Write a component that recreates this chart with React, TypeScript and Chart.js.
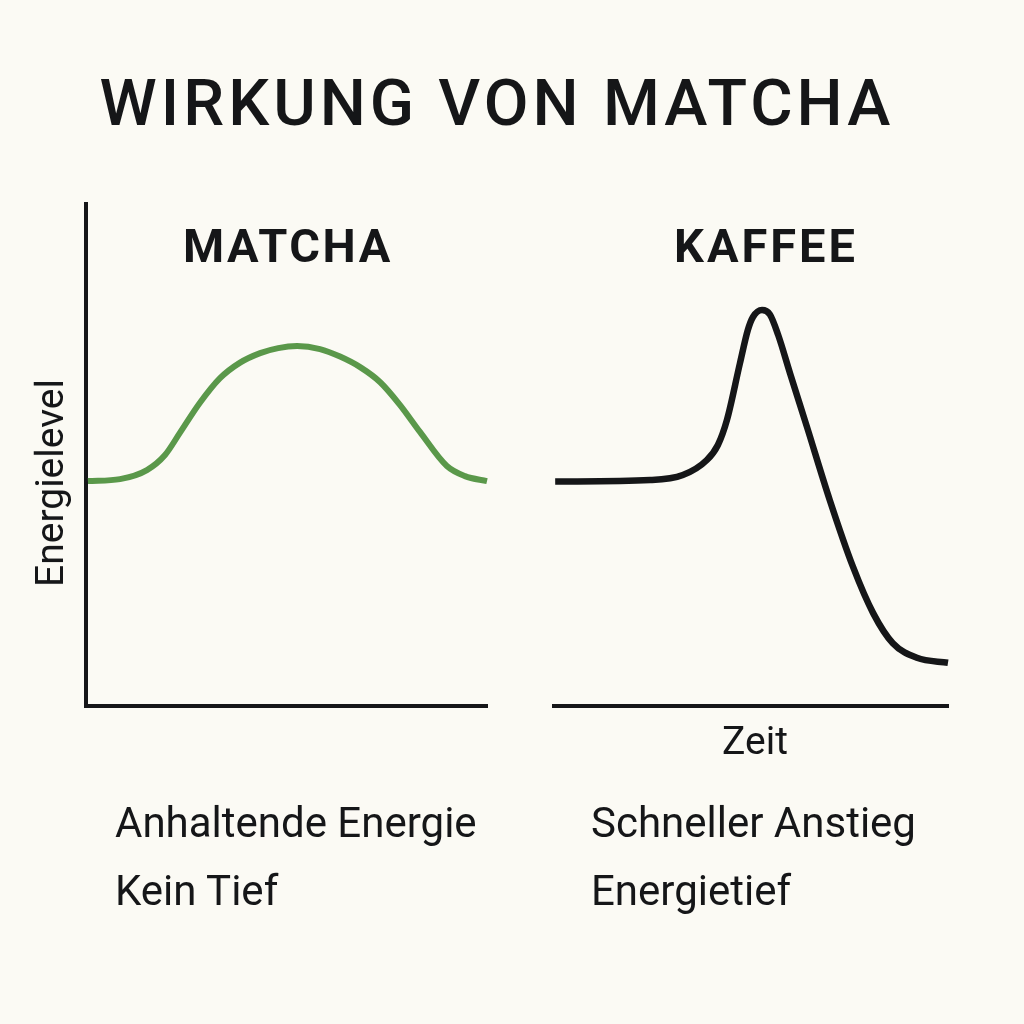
import React, { useEffect, useRef } from "react";
import { Chart, registerables } from "chart.js";

Chart.register(...registerables);

// ---- data ----
const matchaTime = [0.6, 8.6, 15.3, 19.8, 23.5, 28.5, 33.5, 38.5, 43.5, 48, 52.7, 58.4, 63.4, 68.4, 73.4, 78.3, 83.3, 90, 94.5, 100];
const matchaEnergy = [44.8, 45.2, 47, 50, 54.4, 60.4, 65.3, 68.4, 70.3, 71.3, 71.7, 71.1, 69.6, 67.5, 64.5, 60, 54.6, 47.8, 45.8, 44.8];

const kaffeeTime = [0.3, 24.4, 32.7, 38.8, 41.6, 43.9, 47.2, 49.2, 50.5, 52.8, 54.8, 56.9, 59.9, 64.2, 70, 75.9, 81, 86, 92.1, 100];
const kaffeeEnergy = [44.7, 45, 46, 49, 52, 57, 68.3, 74.9, 77.5, 78.9, 78, 73.9, 66.3, 55.6, 41, 27.7, 18.5, 12.5, 9.6, 8.6];

const titleText = "WIRKUNG VON MATCHA";
const panelTitles = ["MATCHA", "KAFFEE"];
const yAxisLabel = "Energielevel";
const xAxisLabel = "Zeit";
const matchaNotes = ["Anhaltende Energie", "Kein Tief"];
const kaffeeNotes = ["Schneller Anstieg", "Energietief"];

const BG = "#FBFAF4";
const INK = "#151618";
const GREEN = "#5A984A";

function makeChart(
  canvas: HTMLCanvasElement,
  xs: number[],
  ys: number[],
  color: string,
  width: number,
  padding: { left: number; right: number; top: number; bottom: number },
  showY: boolean
) {
  return new Chart(canvas, {
    type: "line",
    data: {
      datasets: [
        {
          data: xs.map((x, i) => ({ x, y: ys[i] })),
          borderColor: color,
          borderWidth: width,
          pointRadius: 0,
          cubicInterpolationMode: "monotone",
          fill: false,
          clip: false as any,
          borderCapStyle: "butt",
          borderJoinStyle: "round",
        },
      ],
    },
    options: {
      responsive: false,
      animation: false,
      layout: { padding },
      plugins: { legend: { display: false }, tooltip: { enabled: false } },
      events: [],
      scales: {
        x: {
          type: "linear",
          min: 0,
          max: 100,
          grid: { display: false, drawTicks: false, tickLength: 0 },
          ticks: { display: false },
          border: { display: true, color: INK, width: 4 },
        },
        y: {
          type: "linear",
          min: 0,
          max: 100,
          grid: { display: false, drawTicks: false, tickLength: 0 },
          ticks: { display: false },
          border: { display: showY, color: INK, width: 4 },
        },
      },
    },
  });
}

export default function App() {
  const leftRef = useRef<HTMLCanvasElement>(null);
  const rightRef = useRef<HTMLCanvasElement>(null);

  useEffect(() => {
    document.body.style.margin = "0";
    document.body.style.background = BG;
    const c1 = makeChart(leftRef.current!, matchaTime, matchaEnergy, GREEN, 6, { left: 85.5, right: 537, top: 204, bottom: 318 }, true);
    const c2 = makeChart(rightRef.current!, kaffeeTime, kaffeeEnergy, INK, 6.5, { left: 554, right: 76, top: 204, bottom: 318 }, false);
    return () => {
      c1.destroy();
      c2.destroy();
    };
  }, []);

  const sans = "Roboto, 'Noto Sans', sans-serif";
  const abs = (s: React.CSSProperties): React.CSSProperties => ({ position: "absolute", margin: 0, whiteSpace: "nowrap", color: INK, ...s });

  return (
    <div style={{ position: "absolute", left: 0, top: 0, width: 1024, height: 1024, background: BG, overflow: "hidden", fontFamily: sans }}>
      <canvas ref={leftRef} width={1024} height={1024} style={{ position: "absolute", left: 0, top: 0 }} />
      <canvas ref={rightRef} width={1024} height={1024} style={{ position: "absolute", left: 0, top: 0 }} />
      <div style={abs({ left: 0, width: 994, top: 63, textAlign: "center", fontSize: 65, fontWeight: 500, letterSpacing: 4, lineHeight: "80px" })}>{titleText}</div>
      <div style={abs({ left: 183, width: 200, top: 220, textAlign: "center", fontSize: 47, fontWeight: 700, letterSpacing: 2.5, lineHeight: "52px" })}>{panelTitles[0]}</div>
      <div style={abs({ left: 666, width: 200, top: 220, textAlign: "center", fontSize: 47, fontWeight: 700, letterSpacing: 3, lineHeight: "52px" })}>{panelTitles[1]}</div>
      <div style={abs({ left: 50, top: 483, transform: "translate(-50%, -50%) rotate(-90deg)", fontSize: 39, lineHeight: "44px" })}>{yAxisLabel}</div>
      <div style={abs({ left: 655, width: 200, top: 719, textAlign: "center", fontSize: 39, lineHeight: "44px" })}>{xAxisLabel}</div>
      <div style={abs({ left: 115, top: 789, fontSize: 42, lineHeight: "68px" })}>
        {matchaNotes.map((t) => (<div key={t}>{t}</div>))}
      </div>
      <div style={abs({ left: 591, top: 789, fontSize: 42, lineHeight: "68px" })}>
        {kaffeeNotes.map((t) => (<div key={t}>{t}</div>))}
      </div>
    </div>
  );
}
